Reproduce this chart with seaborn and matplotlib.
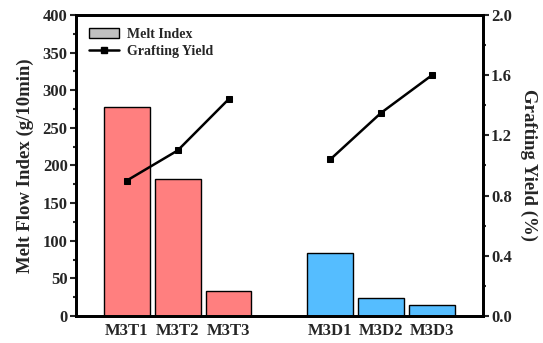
import matplotlib
matplotlib.use("Agg")
import matplotlib.pyplot as plt
from matplotlib.patches import Patch
from matplotlib.lines import Line2D
from matplotlib.ticker import MultipleLocator, FormatStrFormatter
import seaborn as sns
import pandas as pd

sns.set_theme(style="ticks")
plt.rcParams["font.family"] = ["Liberation Serif", "DejaVu Serif"]
plt.rcParams["font.weight"] = "bold"
plt.rcParams["axes.labelweight"] = "bold"

samples = ["M3T1", "M3T2", "M3T3", "M3D1", "M3D2", "M3D3"]
groups = ["T", "T", "T", "D", "D", "D"]
melt_index = [278, 182, 33, 84, 24, 15]
grafting_yield = [0.90, 1.10, 1.44, 1.04, 1.35, 1.60]
order = ["M3T1", "M3T2", "M3T3", "", "M3D1", "M3D2", "M3D3"]
bar_colors = {"T": "#FF7F7F", "D": "#55BDFF"}

df = pd.DataFrame({"sample": samples, "group": groups,
                   "mfi": melt_index, "gy": grafting_yield})
df["pos"] = [order.index(s) for s in samples]

fig = plt.figure(figsize=(5.43, 3.43), dpi=100)
ax = fig.add_axes([0.140, 0.079, 0.749, 0.877])

sns.barplot(data=df, x="sample", y="mfi", hue="group", order=order,
            palette=bar_colors, saturation=1, dodge=False, width=0.9,
            legend=False, edgecolor="black", linewidth=1.0, ax=ax)
ax.set_xlim(-1, 7)
ax.set_ylim(0, 400)
ax.yaxis.set_major_locator(MultipleLocator(50))
ax.yaxis.set_minor_locator(MultipleLocator(25))
ax.set_xlabel("")
ax.set_ylabel("Melt Flow Index (g/10min)", fontsize=13.5, fontweight="bold",
              labelpad=6)
ax.tick_params(axis="x", length=0, labelsize=12, pad=5)
ax.tick_params(axis="y", which="major", length=4, width=1.5, labelsize=12,
               pad=2)
ax.tick_params(axis="y", which="minor", length=2.5, width=1.5)
for lab in ax.get_xticklabels() + ax.get_yticklabels():
    lab.set_fontweight("bold")

ax2 = ax.twinx()
sns.lineplot(data=df, x="pos", y="gy", units="group", estimator=None,
             color="black", marker="s", markersize=5, markeredgecolor="black",
             linewidth=1.8, ax=ax2)
ax2.set_ylim(0, 2.0)
ax2.yaxis.set_major_locator(MultipleLocator(0.4))
ax2.yaxis.set_minor_locator(MultipleLocator(0.2))
ax2.yaxis.set_major_formatter(FormatStrFormatter("%.1f"))
ax2.set_xlim(-1, 7)
ax2.set_xlabel("")
ax2.set_ylabel("Grafting Yield (%)", fontsize=13.5, fontweight="bold",
               rotation=270, labelpad=18)
ax2.tick_params(axis="y", which="major", length=4, width=1.5, labelsize=12,
                pad=2)
ax2.tick_params(axis="y", which="minor", length=2.5, width=1.5)
for lab in ax2.get_yticklabels():
    lab.set_fontweight("bold")

for a in (ax, ax2):
    for sp in a.spines.values():
        sp.set_visible(True)
        sp.set_linewidth(2.0)
        sp.set_color("black")

handles = [Patch(facecolor="#C0C0C0", edgecolor="black", linewidth=1.0),
           Line2D([0], [0], color="black", marker="s", markersize=5, linewidth=1.8)]
ax.legend(handles, ["Melt Index", "Grafting Yield"], loc="upper left",
          bbox_to_anchor=(0.0, 1.0), frameon=False, handlelength=2.2,
          handletextpad=0.6, labelspacing=0.3,
          prop={"family": "Liberation Serif", "weight": "bold", "size": 10})

fig.savefig("out.png", dpi=100)
